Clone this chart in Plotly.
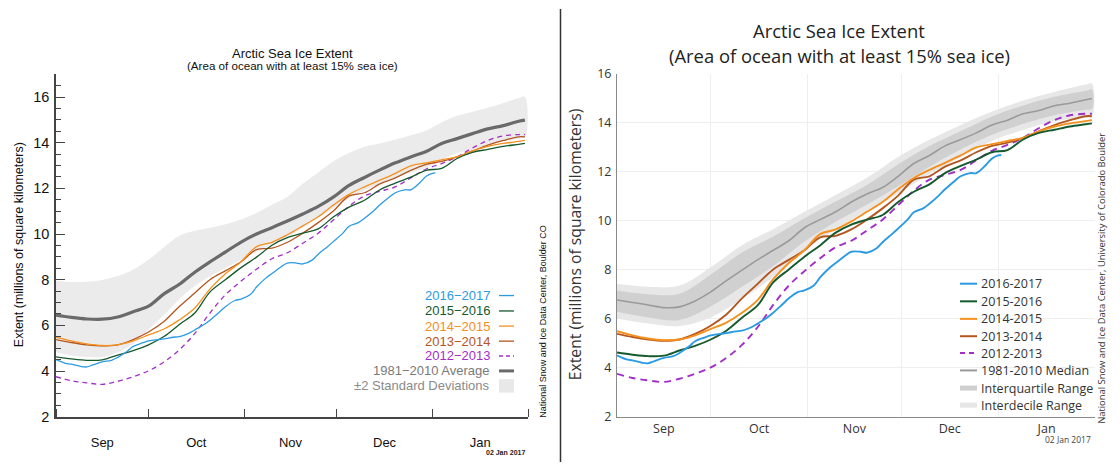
import pandas as pd
import plotly.graph_objects as go

# ---------------- data (million km^2), days counted from 1 Sep ----------------
season_days = [0, 5, 10, 15, 20, 25, 30, 35, 40, 45, 50, 55, 60, 65, 70, 75, 80, 85,
               90, 95, 100, 105, 110, 115, 120, 125, 130, 135, 140, 145, 150, 152]

days_2016_2017 = [0, 3, 5, 8, 10, 12, 15, 18, 20, 23, 25, 28, 30, 33, 35, 38, 40, 43, 45,
                  48, 50, 53, 55, 58, 60, 63, 65, 68, 70, 73, 75, 78, 80, 83, 85, 88, 90,
                  93, 95, 98, 100, 103, 105, 108, 110, 113, 115, 118, 120, 122, 123]
ext_2016_2017 = [4.50, 4.34, 4.30, 4.20, 4.18, 4.27, 4.40, 4.47, 4.60, 4.86, 5.08, 5.23,
                 5.32, 5.38, 5.41, 5.48, 5.51, 5.65, 5.80, 6.04, 6.24, 6.59, 6.83, 7.09,
                 7.15, 7.35, 7.68, 8.07, 8.27, 8.57, 8.73, 8.73, 8.69, 8.86, 9.12, 9.45,
                 9.68, 10.04, 10.34, 10.50, 10.69, 11.02, 11.28, 11.61, 11.81, 11.94,
                 11.94, 12.26, 12.53, 12.66, 12.68]

ext_2015_2016 = [4.62, 4.53, 4.47, 4.49, 4.70, 4.89, 5.15, 5.51, 6.04, 6.54, 7.48, 8.01,
                 8.53, 8.99, 9.51, 9.84, 10.04, 10.23, 10.76, 11.18, 11.48, 11.94, 12.23,
                 12.49, 12.79, 12.88, 13.31, 13.58, 13.71, 13.84, 13.93, 13.97]
ext_2014_2015 = [5.49, 5.32, 5.19, 5.12, 5.15, 5.32, 5.58, 5.84, 6.24, 6.76, 7.61, 8.27,
                 8.79, 9.45, 9.64, 9.97, 10.36, 10.76, 11.28, 11.74, 12.07, 12.36, 12.66,
                 12.99, 13.12, 13.25, 13.38, 13.64, 13.84, 13.97, 14.06, 14.10]
ext_2013_2014 = [5.38, 5.25, 5.15, 5.10, 5.15, 5.38, 5.71, 6.17, 6.83, 7.42, 8.01, 8.40,
                 8.79, 9.32, 9.38, 9.64, 10.04, 10.50, 11.02, 11.67, 11.81, 12.20, 12.46,
                 12.79, 13.05, 13.18, 13.38, 13.64, 13.90, 14.10, 14.26, 14.26]
ext_2012_2013 = [3.75, 3.58, 3.48, 3.42, 3.55, 3.75, 4.01, 4.40, 4.93, 5.65, 6.56, 7.35,
                 7.94, 8.46, 8.92, 9.18, 9.60, 10.04, 10.63, 11.22, 11.67, 11.87, 12.07,
                 12.46, 12.85, 13.09, 13.38, 13.77, 14.10, 14.30, 14.36, 14.36]

# left chart climatology: 1981-2010 average and +/- 2 standard deviations
avg_1981_2010 = [6.45, 6.35, 6.28, 6.27, 6.37, 6.60, 6.84, 7.38, 7.80, 8.33, 8.79, 9.22,
                 9.65, 10.00, 10.28, 10.57, 10.88, 11.21, 11.63, 12.13, 12.48, 12.81,
                 13.12, 13.38, 13.62, 13.97, 14.18, 14.40, 14.61, 14.75, 14.94, 14.99]
sd2_upper = [7.94, 7.90, 7.91, 7.99, 8.16, 8.44, 8.87, 9.43, 9.93, 10.14, 10.28, 10.43,
             10.64, 10.92, 11.28, 11.63, 12.20, 12.70, 13.19, 13.55, 13.83, 13.97, 14.14,
             14.33, 14.54, 14.89, 15.18, 15.36, 15.53, 15.74, 15.96, 16.01]
sd2_lower = [4.82, 4.68, 4.61, 4.61, 4.82, 5.18, 5.82, 6.45, 7.16, 7.73, 8.16, 8.51,
             8.87, 9.22, 9.57, 9.86, 10.28, 10.71, 11.13, 11.56, 11.91, 12.20, 12.48,
             12.70, 12.91, 13.26, 13.55, 13.69, 13.90, 14.04, 14.18, 14.23]

# right chart climatology: 1981-2010 median, interquartile and interdecile ranges
median_1981_2010 = [6.76, 6.66, 6.56, 6.45, 6.48, 6.72, 7.09, 7.55, 7.98, 8.40, 8.79,
                    9.18, 9.71, 10.04, 10.36, 10.76, 11.09, 11.35, 11.81, 12.33, 12.66,
                    13.05, 13.31, 13.58, 13.90, 14.10, 14.36, 14.49, 14.69, 14.79, 14.93,
                    14.98]
band_days = [0, 10, 20, 30, 40, 50, 60, 70, 80, 90, 100, 110, 120, 130, 140, 150, 152]
idr_high = [7.42, 7.30, 7.35, 8.10, 9.00, 9.65, 10.36, 11.05, 11.75, 12.60, 13.30, 13.90,
            14.45, 14.90, 15.25, 15.55, 15.60]
iqr_high = [7.15, 7.00, 7.02, 7.80, 8.70, 9.35, 10.10, 10.78, 11.45, 12.30, 13.05, 13.65,
            14.25, 14.70, 15.05, 15.30, 15.35]
iqr_low = [6.28, 6.05, 5.95, 6.50, 7.30, 8.15, 9.15, 9.95, 10.65, 11.40, 12.20, 12.90,
           13.50, 13.95, 14.30, 14.52, 14.56]
idr_low = [6.01, 5.80, 5.70, 6.05, 6.80, 7.70, 8.80, 9.65, 10.40, 11.10, 11.90, 12.60,
           13.25, 13.70, 14.05, 14.20, 14.23]

season_labels = ["2016\u22122017", "2015\u22122016", "2014\u22122015", "2013\u22122014", "2012\u22122013"]
season_labels_r = ["2016-2017", "2015-2016", "2014-2015", "2013-2014", "2012-2013"]

# ---------------- helpers ----------------
BASE = pd.Timestamp("2016-09-01")


def to_dates(days):
    return [(BASE + pd.Timedelta(days=d)).strftime("%Y-%m-%d") for d in days]


W, H = 1120, 470


def P(x):
    return x / W


def Q(y):
    return 1 - y / H


LEFT_FONT = "Liberation Sans, Arial, Helvetica, sans-serif"
RIGHT_FONT = "Open Sans, sans-serif"

C_BLUE = "#2a9be3"
C_GREEN = "#15592d"
C_ORANGE = "#f5901e"
C_BROWN = "#b4561f"
C_PURPLE = "#a22ec8"

series = [
    (days_2016_2017, ext_2016_2017, C_BLUE, "solid"),
    (season_days, ext_2015_2016, C_GREEN, "solid"),
    (season_days, ext_2014_2015, C_ORANGE, "solid"),
    (season_days, ext_2013_2014, C_BROWN, "solid"),
    (season_days, ext_2012_2013, C_PURPLE, "dash"),
]

fig = go.Figure()

# ---------------- left panel ----------------
sd_x = to_dates(season_days) + to_dates(season_days)[::-1]
sd_y = sd2_upper + sd2_lower[::-1]
fig.add_trace(go.Scatter(x=sd_x, y=sd_y, fill="toself", fillcolor="#ebebeb",
                         line=dict(width=0, shape="spline"), mode="lines",
                         hoverinfo="skip", showlegend=False, xaxis="x", yaxis="y"))
fig.add_trace(go.Scatter(x=to_dates(season_days), y=avg_1981_2010, mode="lines",
                         line=dict(color="#6a6a6a", width=3.2, shape="spline"),
                         showlegend=False, xaxis="x", yaxis="y"))
for d, v, c, ds in series[::-1]:
    fig.add_trace(go.Scatter(x=to_dates(d), y=v, mode="lines",
                             line=dict(color=c, width=1.3, shape="spline",
                                       dash="5px,4px" if ds == "dash" else "solid"),
                             showlegend=False, xaxis="x", yaxis="y"))

# ---------------- right panel ----------------
idr_x = to_dates(band_days) + to_dates(band_days)[::-1]
fig.add_trace(go.Scatter(x=idr_x, y=idr_high + idr_low[::-1], fill="toself",
                         fillcolor="#e7e7e7", line=dict(width=0, shape="spline"),
                         mode="lines", hoverinfo="skip", showlegend=False,
                         xaxis="x2", yaxis="y2"))
fig.add_trace(go.Scatter(x=idr_x, y=iqr_high + iqr_low[::-1], fill="toself",
                         fillcolor="#d0d0d0", line=dict(width=0, shape="spline"),
                         mode="lines", hoverinfo="skip", showlegend=False,
                         xaxis="x2", yaxis="y2"))
fig.add_trace(go.Scatter(x=to_dates(season_days), y=median_1981_2010, mode="lines",
                         line=dict(color="#9a9a9a", width=1.6, shape="spline"),
                         showlegend=False, xaxis="x2", yaxis="y2"))
for d, v, c, ds in series[::-1]:
    fig.add_trace(go.Scatter(x=to_dates(d), y=v, mode="lines",
                             line=dict(color=c, width=1.9, shape="spline",
                                       dash="7px,5px" if ds == "dash" else "solid"),
                             showlegend=False, xaxis="x2", yaxis="y2"))

# ---------------- axes ----------------
x_range = ["2016-09-01", "2017-02-01"]
plot_top, plot_bot = 67, 423

fig.update_layout(
    width=W, height=H, autosize=False,
    margin=dict(l=0, r=0, t=0, b=0),
    paper_bgcolor="white", plot_bgcolor="white",
    showlegend=False,
    xaxis=dict(domain=[P(56), P(528)], range=x_range, type="date",
               dtick="M1", tick0="2016-09-01", tickformat="%b", ticklabelmode="period",
               ticks="inside", ticklen=8, tickwidth=1.3, tickcolor="#444",
               showline=True, linecolor="#444", linewidth=1.5, showgrid=False,
               zeroline=False, tickfont=dict(family=LEFT_FONT, size=13, color="#111"),
               ticklabelstandoff=13, anchor="y"),
    yaxis=dict(domain=[Q(plot_bot), Q(plot_top)], range=[2, 17.03], dtick=2, tick0=2,
               ticks="inside", ticklen=9, tickwidth=1.3, tickcolor="#444",
               minor=dict(dtick=0.5, tick0=2, ticks="inside", ticklen=5,
                          tickcolor="#444", tickwidth=1.1, showgrid=False),
               showline=True, linecolor="#444", linewidth=1.5, showgrid=False,
               zeroline=False, tickfont=dict(family=LEFT_FONT, size=14.5, color="#111"),
               ticklabelstandoff=2, anchor="x"),
    xaxis2=dict(domain=[P(617), P(1095)], range=x_range, type="date",
                dtick="M1", tick0="2016-09-01", tickformat="%b", ticklabelmode="period",
                ticks="", showline=True, linecolor="#8a8a8a", linewidth=1,
                showgrid=True, gridcolor="#eeeeee", gridwidth=1, zeroline=False,
                tickfont=dict(family=RIGHT_FONT, size=12.5, color="#333"),
                ticklabelstandoff=0, anchor="y2"),
    yaxis2=dict(domain=[Q(plot_bot), Q(plot_top)], range=[2, 16], dtick=2, tick0=2,
                ticks="", showline=True, linecolor="#8a8a8a", linewidth=1,
                showgrid=True, gridcolor="#eeeeee", gridwidth=1, zeroline=False,
                tickfont=dict(family=RIGHT_FONT, size=12.5, color="#333"),
                ticklabelstandoff=2, anchor="x2"),
)

# ---------------- texts ----------------
ann = []


def text(x, y, s, size, family, color="#111", xa="center", ya="middle", angle=0):
    ann.append(dict(x=P(x), y=Q(y), xref="paper", yref="paper", text=s, showarrow=False,
                    xanchor=xa, yanchor=ya, textangle=angle,
                    font=dict(family=family, size=size, color=color)))


# left titles
text(292, 46, "Arctic Sea Ice Extent", 13, LEFT_FONT, "#111")
text(292, 59, "(Area of ocean with at least 15% sea ice)", 11.6, LEFT_FONT, "#111")
text(19, 245, "Extent (millions of square kilometers)", 12.5, LEFT_FONT, "#111", angle=-90)
text(543.5, 324, "National Snow and Ice Data Center, Boulder CO", 9, LEFT_FONT, "#111",
     angle=-90)
text(527, 460, "<b>02 Jan 2017</b>", 7, LEFT_FONT, "#222", xa="right")

# right titles
text(839, 22, "Arctic Sea Ice Extent", 18.4, RIGHT_FONT, "#222")
text(839, 48, "(Area of ocean with at least 15% sea ice)", 18.4, RIGHT_FONT, "#222")
text(575, 244, "Extent (millions of square kilometers)", 15.7, RIGHT_FONT, "#333", angle=-90)
text(1102, 280, "National Snow and Ice Data Center, University of Colorado Boulder", 9.4,
     RIGHT_FONT, "#333", angle=-90)
text(1093, 447, "02 Jan 2017", 8.5, RIGHT_FONT, "#444", xa="right")

shapes = []
# separator between the two charts
shapes.append(dict(type="line", xref="paper", yref="paper", x0=P(560.5), x1=P(560.5),
                   y0=0, y1=1, line=dict(color="#333", width=1.5)))

# left legend (text right, key at right)
left_rows = [297.3, 313.3, 329, 344.6, 360, 375.5, 391]
left_cols = [C_BLUE, C_GREEN, C_ORANGE, C_BROWN, C_PURPLE]
for i, lab in enumerate(season_labels):
    text(492, left_rows[i], lab, 13, LEFT_FONT, left_cols[i], xa="right")
    shapes.append(dict(type="line", xref="paper", yref="paper", x0=P(499), x1=P(514),
                       y0=Q(left_rows[i]), y1=Q(left_rows[i]),
                       line=dict(color=left_cols[i], width=1.3,
                                 dash="4px,3px" if i == 4 else "solid")))
text(492, left_rows[5], "1981\u22122010 Average", 13, LEFT_FONT, "#7a7a7a", xa="right")
shapes.append(dict(type="line", xref="paper", yref="paper", x0=P(499), x1=P(514),
                   y0=Q(left_rows[5]), y1=Q(left_rows[5]),
                   line=dict(color="#6a6a6a", width=3)))
text(492, left_rows[6], "\u00b12 Standard Deviations", 13, LEFT_FONT, "#8a8a8a", xa="right")
shapes.append(dict(type="rect", xref="paper", yref="paper", x0=P(499), x1=P(514),
                   y0=Q(398), y1=Q(384), fillcolor="#e8e8e8", line=dict(width=0)))

# right legend (key left, text right)
right_rows = [285, 303.3, 321.5, 339.5, 357, 375, 393.3, 411]
for i, lab in enumerate(season_labels_r):
    text(979, right_rows[i], lab, 12.5, RIGHT_FONT, "#333", xa="left")
    shapes.append(dict(type="line", xref="paper", yref="paper", x0=P(960), x1=P(977),
                       y0=Q(right_rows[i]), y1=Q(right_rows[i]),
                       line=dict(color=left_cols[i], width=2,
                                 dash="5px,4px" if i == 4 else "solid")))
extra = [("1981-2010 Median", "#9a9a9a", 2), ("Interquartile Range", "#cfcfcf", 5),
         ("Interdecile Range", "#e6e6e6", 5)]
for j, (lab, col, wd) in enumerate(extra):
    r = right_rows[5 + j]
    text(979, r, lab, 12.5, RIGHT_FONT, "#333", xa="left")
    shapes.append(dict(type="line", xref="paper", yref="paper", x0=P(960), x1=P(977),
                       y0=Q(r), y1=Q(r), line=dict(color=col, width=wd)))

fig.update_layout(annotations=ann, shapes=shapes)

fig.write_html("out.html")
